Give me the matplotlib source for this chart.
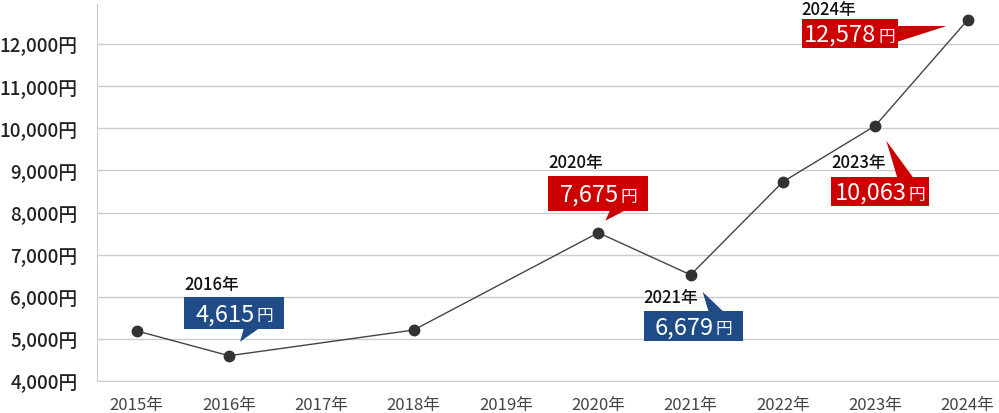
import numpy as np
import matplotlib
matplotlib.use("Agg")
import matplotlib.pyplot as plt
import matplotlib.transforms as mtransforms
from matplotlib.patches import Polygon

plt.rcParams['font.family'] = ['Noto Sans CJK JP', 'DejaVu Sans']

# data
years = ['2015年', '2016年', '2017年', '2018年', '2019年',
         '2020年', '2021年', '2022年', '2023年', '2024年']
point_idx = [0, 1, 3, 5, 6, 7, 8, 9]
point_val = [5190, 4600, 5210, 7520, 6520, 8730, 10060, 12570]
yticks = [4000, 5000, 6000, 7000, 8000, 9000, 10000, 11000, 12000]

# callouts: index of point, year label, value text, colour
call_idx = [1, 5, 6, 8, 9]
call_year = ['2016年', '2020年', '2021年', '2023年', '2024年']
call_text = ['4,615', '7,675', '6,679', '10,063', '12,578']
BLUE = '#1f4b87'
RED = '#cc0000'
call_color = [BLUE, RED, BLUE, RED, RED]

# shapes in pixels relative to the point (dx right, dy down)
# box (x0, x1, y0, y1), tail polygon, year label position
call_box = [(-45, 55, -59, -27), (-50, 50, -57, -22), (-47, 52, 36, 66),
            (-44, 54, 51, 80), (-166, -70, -1, 28)]
call_tail = [[(15, -28), (31, -28), (11, -14)],
             [(12, -23), (28, -23), (7, -12)],
             [(18, 37), (33, 37), (12, 17)],
             [(22, 52), (38, 52), (11, 15)],
             [(-71, 6), (-71, 22), (-21, 6)]]
call_year_pos = [(-45, -72), (-50, -71), (-47, 22), (-44, 36), (-166, -11)]

fig = plt.figure(figsize=(9.99, 4.14), dpi=100)
ax = fig.add_axes([97 / 999, 32 / 414, 1 - 97 / 999, (382 - 5) / 414])

ax.plot(point_idx, point_val, color='#444444', linewidth=1, marker='o',
        markersize=7.5, markerfacecolor='#333333', markeredgecolor='#333333',
        zorder=3)

ax.set_xlim(-0.43, 9.34)
ax.set_ylim(4000, 12950)
ax.set_yticks(yticks)
ax.set_yticklabels(['{:,}円'.format(v) for v in yticks], fontsize=13.5,
                   color='#222222', fontweight=500)
ax.set_xticks(range(len(years)))
ax.set_xticklabels(years, fontsize=12, color='#444444')
ax.tick_params(axis='both', length=0)
ax.tick_params(axis='y', pad=14)
ax.tick_params(axis='x', pad=11)
ax.grid(axis='y', color='#cccccc', linewidth=1)
ax.set_axisbelow(True)
for s in ['top', 'right']:
    ax.spines[s].set_visible(False)
ax.spines['left'].set_color('#cccccc')
ax.spines['bottom'].set_color('#cccccc')

fig.canvas.draw()
renderer = fig.canvas.get_renderer()

for i in range(len(call_idx)):
    k = point_idx.index(call_idx[i])
    trans = fig.dpi_scale_trans + mtransforms.ScaledTranslation(
        call_idx[i], point_val[k], ax.transData)
    x0, x1, y0, y1 = call_box[i]
    box = [(x0, y0), (x1, y0), (x1, y1), (x0, y1)]
    for shape in [box, call_tail[i]]:
        verts = [(px / 100, -py / 100) for px, py in shape]
        ax.add_patch(Polygon(verts, closed=True, facecolor=call_color[i],
                             edgecolor='none', transform=trans, zorder=4,
                             clip_on=False))
    cy = -((y0 + y1) / 2 + 1) / 100
    num = ax.text(0, cy, call_text[i], transform=trans, fontsize=17,
                  color='white', ha='left', va='center', zorder=5)
    yen = ax.text(0, cy - 0.02, '円', transform=trans, fontsize=12,
                  color='white', ha='left', va='center', zorder=5)
    w_num = num.get_window_extent(renderer).width / 100
    w_yen = yen.get_window_extent(renderer).width / 100
    start = (x0 + x1) / 2 / 100 - (w_num + w_yen + 0.02) / 2
    num.set_x(start)
    yen.set_x(start + w_num + 0.02)
    yx, yy = call_year_pos[i]
    ax.text(yx / 100, -yy / 100, call_year[i], transform=trans, fontsize=12,
            color='#111111', ha='left', va='center', zorder=5,
            fontweight=500)

plt.savefig('out.png', dpi=100)
